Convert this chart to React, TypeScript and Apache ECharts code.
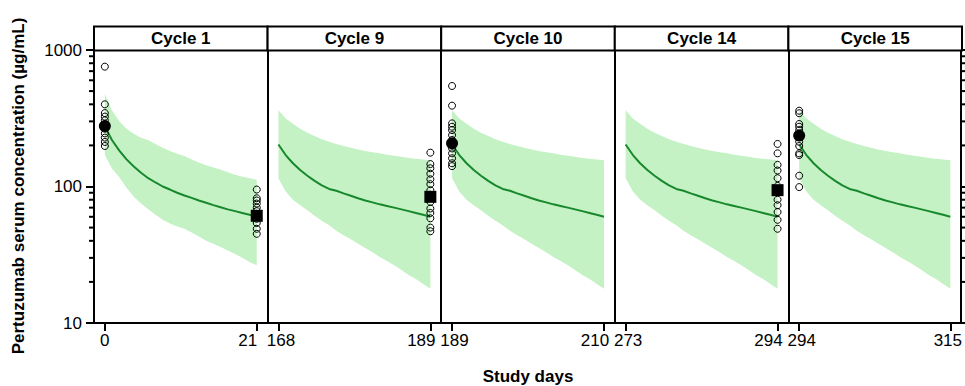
import React, { useEffect, useRef } from 'react';
import * as echarts from 'echarts';

// ---------- data ----------
const panelTitles = ['Cycle 1', 'Cycle 9', 'Cycle 10', 'Cycle 14', 'Cycle 15'];
const cycleStartDays = [0, 168, 189, 273, 294];
const simDays = [0, 1, 2, 3, 4, 5, 6, 7, 8, 9, 10, 11, 12, 13, 14, 15, 16, 17, 18, 19, 20, 21];

// Cycle 1 simulated median and 90% prediction interval
const c1Median = [275, 218, 183, 158, 140, 126, 115, 107, 100, 95, 90, 86, 82.5, 79, 76, 73, 70.5, 68, 66, 64, 62, 60];
const c1Upper = [476, 360, 300, 265, 243, 228, 218, 205, 192, 182, 174, 167, 158, 150, 143, 138, 133, 127, 122, 118, 115, 112];
const c1Lower = [170, 135, 117, 98, 84, 75, 68, 62, 57, 53.5, 51, 49, 46, 43, 40, 38, 36, 34, 32, 30, 28, 26.5];

// Later cycles (steady state) simulated median and interval
const ssMedian = [203, 170, 148, 132, 120, 110, 102, 96, 93, 89, 85.5, 82, 79, 76.5, 74, 72, 70, 68, 66, 64, 62, 60];
const ssUpper = [362, 315, 288, 265, 248, 234, 222, 213, 205, 198, 192, 187, 182, 178, 175, 171, 168, 165, 162, 160, 158, 156];
const ssLower = [115, 92, 80, 73, 67, 61, 56, 52, 47.5, 44, 41, 38, 35.5, 33, 30.5, 28.5, 26.5, 24.5, 22.5, 21, 19.3, 17.8];

// Observed concentrations (day within cycle, values)
const obsDays = [0, 21, 21, 0, 21, 0];
const obsPanel = [0, 0, 1, 2, 3, 4];
const obsC1Day0 = [755, 400, 345, 325, 305, 285, 265, 245, 228, 212, 198];
const obsC1Day21 = [95, 82, 79, 75, 70, 66, 63, 58, 54, 49, 45];
const obsC9Day21 = [177, 146, 136, 124, 113, 104, 94, 87, 77, 69, 64, 58.5, 50, 47];
const obsC10Day0 = [545, 391, 290, 274, 259, 238, 219, 190, 175, 161, 148, 141];
const obsC14Day21 = [205, 175, 144, 131, 115, 101, 92, 80, 73, 65, 57, 49];
const obsC15Day0 = [359, 344, 287, 274, 259, 234, 213, 198, 175, 170, 120, 99];
const obsMeans = [277, 61, 84, 207, 94, 236];
const obsMeanSymbols = ['circle', 'rect', 'rect', 'circle', 'rect', 'circle'];

const yMajorTicks = [10, 100, 1000];
const yMinorTicks = [20, 30, 40, 50, 60, 70, 80, 90, 200, 300, 400, 500, 600, 700, 800, 900];

const yTitle = 'Pertuzumab serum concentration (µg/mL)';
const xTitle = 'Study days';

// ---------- layout / style ----------
const FONT = '"Liberation Sans", Arial, Helvetica, sans-serif';
const GRID_LEFT = 94;
const GRID_TOP = 50;
const GRID_H = 273;
const PANEL_W = 173.6;
const X_PAD_LEFT = 1.5;
const X_PAD_RIGHT = 1.5;
const BAND = '#c4f2c4';
const LINE = '#17882b';

export default function App() {
  const ref = useRef<HTMLDivElement>(null);

  useEffect(() => {
    document.body.style.margin = '0';
    const chart = echarts.init(ref.current!, null, { renderer: 'svg' });

    const obsSets = [obsC1Day0, obsC1Day21, obsC9Day21, obsC10Day0, obsC14Day21, obsC15Day0];
    const bands = [
      { med: c1Median, up: c1Upper, lo: c1Lower },
      { med: ssMedian, up: ssUpper, lo: ssLower },
      { med: ssMedian, up: ssUpper, lo: ssLower },
      { med: ssMedian, up: ssUpper, lo: ssLower },
      { med: ssMedian, up: ssUpper, lo: ssLower },
    ];

    const grids: any[] = [];
    const xAxes: any[] = [];
    const yAxes: any[] = [];
    const series: any[] = [];
    const graphics: any[] = [];
    const tickStyle = { color: '#000', width: 2 };
    const labelText = { color: '#000', fontSize: 17, fontFamily: FONT };
    const nPanels = cycleStartDays.length;
    const lastDay = simDays[simDays.length - 1];
    const mainYIndex: number[] = [];
    const minorTickSpecs: { grid: number; x: number; dir: number }[] = [];

    cycleStartDays.forEach((s, i) => {
      const left = GRID_LEFT + i * PANEL_W;
      const isLast = i === nPanels - 1;
      const xMin = s - X_PAD_LEFT;
      const xMax = s + lastDay + X_PAD_RIGHT;
      grids.push({ left, top: GRID_TOP, width: PANEL_W, height: GRID_H });
      xAxes.push({
        type: 'value',
        gridIndex: i,
        min: xMin,
        max: xMax,
        axisLine: { show: true, onZero: false, lineStyle: { color: '#000', width: 2 } },
        axisTick: { show: true, length: 8, lineStyle: tickStyle, customValues: [s, s + lastDay] },
        axisLabel: {
          show: true,
          customValues: [s, s + lastDay],
          ...labelText,
          margin: 9,
          formatter: (v: number) =>
            Math.round(v) === s
              ? `{${i === 0 ? 'c' : 'l'}|${Math.round(v)}}`
              : `{${isLast ? 'e' : 'r'}|${Math.round(v)}}`,
          rich: {
            c: { ...labelText },
            l: { ...labelText, padding: [0, 0, 0, 5] },
            r: { ...labelText, padding: [0, 18, 0, 0] },
            e: { ...labelText, padding: [0, 5, 0, 0] },
          },
        },
        splitLine: { show: false },
      });
      const mainY = yAxes.length;
      mainYIndex.push(mainY);
      yAxes.push({
        type: 'log',
        logBase: 10,
        gridIndex: i,
        min: 10,
        max: 1000,
        position: 'left',
        axisLine: { show: true, onZero: false, lineStyle: { color: '#000', width: 2 } },
        axisTick: { show: i === 0, length: 8, lineStyle: tickStyle },
        axisLabel: {
          show: i === 0,
          ...labelText,
          margin: 12,
          formatter: (v: number) => (yMajorTicks.includes(Math.round(v)) ? String(Math.round(v)) : ''),
        },
        splitLine: { show: false },
      });
      if (isLast) {
        yAxes.push({
          type: 'log', logBase: 10, gridIndex: i, min: 10, max: 1000, position: 'right',
          axisLine: { show: true, onZero: false, lineStyle: { color: '#000', width: 2 } },
          axisTick: { show: true, length: 8, lineStyle: tickStyle },
          axisLabel: { show: false },
          splitLine: { show: false },
        });
      }
      if (i === 0) minorTickSpecs.push({ grid: i, x: xMin, dir: -1 });
      if (isLast) minorTickSpecs.push({ grid: i, x: xMax, dir: 1 });

      const b = bands[i];
      series.push({
        type: 'custom',
        xAxisIndex: i,
        yAxisIndex: mainY,
        data: simDays.map((d, k) => [s + d, b.lo[k], b.up[k]]),
        encode: { x: 0, y: [1, 2] },
        renderItem: (params: any, api: any) => {
          if (params.dataIndex !== 0) return null;
          const pts: number[][] = [];
          simDays.forEach((d, k) => pts.push(api.coord([s + d, b.up[k]])));
          for (let k = simDays.length - 1; k >= 0; k--) pts.push(api.coord([s + simDays[k], b.lo[k]]));
          return { type: 'polygon', shape: { points: pts }, style: { fill: BAND, stroke: 'none' } };
        },
        silent: true,
        z: 1,
      });
      series.push({
        type: 'line', xAxisIndex: i, yAxisIndex: mainY,
        data: simDays.map((d, k) => [s + d, b.med[k]]),
        symbol: 'none', lineStyle: { color: LINE, width: 2 }, silent: true, z: 3,
      });

      // header strip
      graphics.push({
        type: 'rect',
        shape: { x: left, y: 26.5, width: PANEL_W, height: 24 },
        style: { fill: '#fff', stroke: '#000', lineWidth: 2 },
        z: 10,
      });
      graphics.push({
        type: 'text',
        x: left + PANEL_W / 2,
        y: 38.5,
        style: {
          text: panelTitles[i],
          font: `bold 17px ${FONT}`,
          textAlign: 'center',
          textVerticalAlign: 'middle',
          fill: '#000',
        },
        z: 11,
      });
    });

    // observed points and means
    obsSets.forEach((vals, j) => {
      const p = obsPanel[j];
      const yIdx = mainYIndex[p];
      const x = cycleStartDays[p] + obsDays[j];
      series.push({
        type: 'scatter', xAxisIndex: p, yAxisIndex: yIdx,
        data: vals.map((v) => [x, v]),
        symbol: 'circle', symbolSize: 7,
        itemStyle: { color: 'rgba(255,255,255,0)', borderColor: '#000', borderWidth: 1, opacity: 1 },
        silent: true, z: 4,
      });
      series.push({
        type: 'scatter', xAxisIndex: p, yAxisIndex: yIdx,
        data: [[x, obsMeans[j]]],
        symbol: obsMeanSymbols[j], symbolSize: 12,
        itemStyle: { color: '#000', opacity: 1 },
        silent: true, z: 5,
      });
    });

    graphics.push({
      type: 'text',
      x: 18,
      y: 186,
      rotation: Math.PI / 2,
      style: {
        text: yTitle,
        font: `bold 17px ${FONT}`,
        textAlign: 'center',
        textVerticalAlign: 'middle',
        fill: '#000',
      },
    });
    graphics.push({
      type: 'text',
      x: GRID_LEFT + (PANEL_W * nPanels) / 2,
      y: 376,
      style: {
        text: xTitle,
        font: `bold 17px ${FONT}`,
        textAlign: 'center',
        textVerticalAlign: 'middle',
        fill: '#000',
      },
    });

    chart.setOption({
      animation: false,
      backgroundColor: '#fff',
      grid: grids,
      xAxis: xAxes,
      yAxis: yAxes,
      series,
      graphic: graphics,
    });

    // minor log ticks: positions come from the log axis via convertToPixel
    const tickGraphics: any[] = [];
    try {
      minorTickSpecs.forEach(({ grid, x, dir }) => {
        yMinorTicks.forEach((v) => {
          const p = chart.convertToPixel(
            { xAxisIndex: grid, yAxisIndex: mainYIndex[grid] } as any,
            [x, v]
          ) as unknown as number[];
          if (!p || isNaN(p[0]) || isNaN(p[1])) return;
          tickGraphics.push({
            type: 'line',
            shape: { x1: p[0], y1: p[1], x2: p[0] + dir * 5, y2: p[1] },
            style: { stroke: '#000', lineWidth: 2 },
            z: 12,
          });
        });
      });
    } catch (e) {
      // ignore
    }
    if (tickGraphics.length) chart.setOption({ graphic: [...graphics, ...tickGraphics] });

    return () => chart.dispose();
  }, []);

  return (
    <div
      ref={ref}
      style={{ position: 'absolute', left: 0, top: 0, width: 965, height: 386 }}
    />
  );
}
